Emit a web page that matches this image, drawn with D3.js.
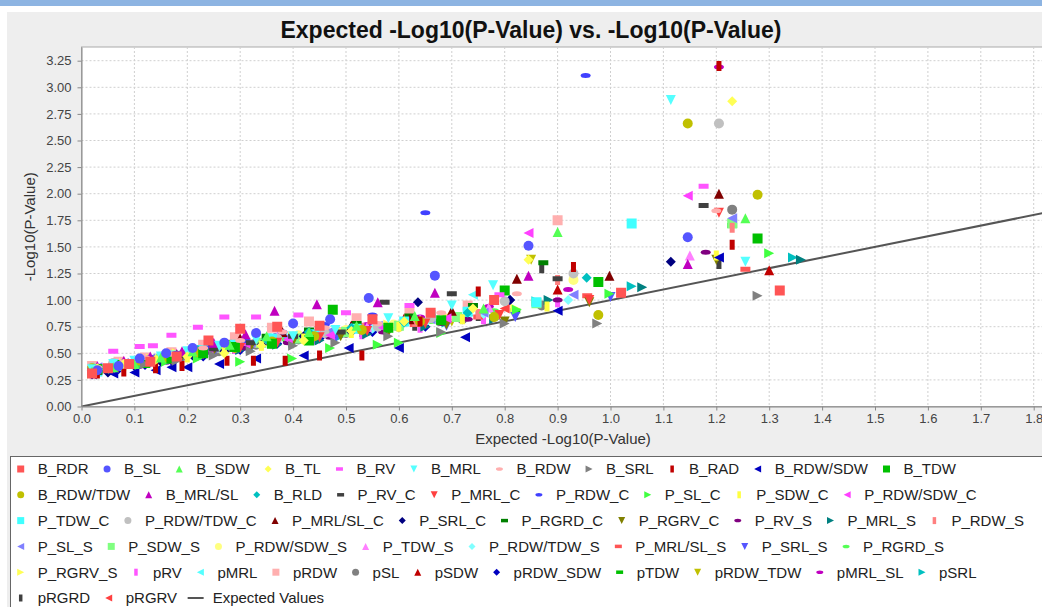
<!DOCTYPE html>
<html>
<head>
<meta charset="utf-8">
<script src="https://cdn.jsdelivr.net/npm/d3@7"></script>
<style>
  body { margin: 0; background: #fff; }
  svg { display: block; font-family: "Liberation Sans", Arial, sans-serif; }
</style>
</head>
<body>
<div id="chart"></div>
<script>

var seriesNames = ["B_RDR", "B_SL", "B_SDW", "B_TL", "B_RV", "B_MRL", "B_RDW", "B_SRL", "B_RAD", "B_RDW/SDW", "B_TDW",
  "B_RDW/TDW", "B_MRL/SL", "B_RLD", "P_RV_C", "P_MRL_C", "P_RDW_C", "P_SL_C", "P_SDW_C", "P_RDW/SDW_C",
  "P_TDW_C", "P_RDW/TDW_C", "P_MRL/SL_C", "P_SRL_C", "P_RGRD_C", "P_RGRV_C", "P_RV_S", "P_MRL_S", "P_RDW_S",
  "P_SL_S", "P_SDW_S", "P_RDW/SDW_S", "P_TDW_S", "P_RDW/TDW_S", "P_MRL/SL_S", "P_SRL_S", "P_RGRD_S",
  "P_RGRV_S", "pRV", "pMRL", "pRDW", "pSL", "pSDW", "pRDW_SDW", "pTDW", "pRDW_TDW", "pMRL_SL", "pSRL",
  "pRGRD", "pRGRV"];

var seriesPoints = [
  [[0.02,0.31],[0.05,0.36],[0.09,0.40],[0.13,0.42],[0.18,0.47],[0.24,0.62],[0.30,0.73],[0.37,0.75],[0.45,0.76],[0.55,0.82],[0.66,0.88],[0.78,1.00],[1.02,1.07],[1.32,1.09]],
  [[0.03,0.34],[0.07,0.38],[0.11,0.45],[0.16,0.50],[0.21,0.55],[0.27,0.60],[0.33,0.69],[0.40,0.78],[0.47,0.82],[0.543,1.02],[0.668,1.23],[0.845,1.51],[1.146,1.59]],
  [[0.02,0.33],[0.06,0.37],[0.10,0.40],[0.15,0.46],[0.21,0.52],[0.28,0.58],[0.35,0.66],[0.43,0.70],[0.52,0.76],[0.63,0.85],[0.76,0.92],[0.90,1.64],[1.255,1.77]],
  [[0.03,0.36],[0.08,0.40],[0.14,0.44],[0.20,0.47],[0.27,0.50],[0.34,0.57],[0.42,0.62],[0.51,0.71],[0.61,0.80],[0.74,0.92],[0.845,1.38],[1.23,2.87]],
  [[0.06,0.52],[0.11,0.565],[0.135,0.57],[0.17,0.67],[0.22,0.745],[0.27,0.84],[0.33,0.84],[0.41,0.86],[0.50,0.88],[0.62,0.95],[0.79,1.05],[1.176,2.07]],
  [[0.02,0.35],[0.06,0.40],[0.10,0.43],[0.15,0.47],[0.20,0.52],[0.26,0.57],[0.33,0.63],[0.40,0.66],[0.48,0.72],[0.58,0.83],[0.70,0.95],[0.778,1.14],[1.114,2.88],[1.255,1.36]],
  [[0.03,0.37],[0.08,0.42],[0.12,0.46],[0.17,0.49],[0.23,0.55],[0.30,0.62],[0.38,0.70],[0.46,0.74],[0.56,0.78],[0.68,0.88],[0.823,1.06],[1.20,1.84]],
  [[0.02,0.32],[0.07,0.36],[0.12,0.40],[0.18,0.43],[0.25,0.48],[0.32,0.52],[0.40,0.57],[0.48,0.60],[0.58,0.66],[0.68,0.70],[0.80,0.78],[0.975,0.78],[1.278,1.04]],
  [[0.03,0.31],[0.08,0.33],[0.14,0.36],[0.19,0.38],[0.275,0.43],[0.325,0.43],[0.385,0.43],[0.45,0.48],[0.53,0.48],[0.64,0.80],[0.75,1.08],[0.93,1.31],[1.23,1.52],[1.205,3.20]],
  [[0.02,0.30],[0.06,0.31],[0.10,0.32],[0.14,0.34],[0.17,0.37],[0.20,0.37],[0.26,0.40],[0.33,0.45],[0.42,0.48],[0.505,0.55],[0.60,0.55],[0.725,0.65],[0.90,0.90],[1.205,1.40]],
  [[0.03,0.35],[0.07,0.39],[0.12,0.41],[0.17,0.45],[0.23,0.50],[0.29,0.56],[0.36,0.59],[0.43,0.62],[0.475,0.91],[0.58,0.74],[0.68,0.81],[0.80,1.09],[0.977,1.17],[1.278,1.58]],
  [[0.02,0.36],[0.07,0.39],[0.11,0.43],[0.16,0.46],[0.22,0.51],[0.29,0.55],[0.36,0.61],[0.44,0.66],[0.53,0.72],[0.64,0.80],[0.78,0.84],[0.977,0.86],[1.146,2.66],[1.278,1.99]],
  [[0.03,0.38],[0.08,0.43],[0.13,0.47],[0.19,0.52],[0.25,0.60],[0.31,0.68],[0.365,0.90],[0.445,0.96],[0.56,0.98],[0.668,1.07],[0.845,1.23],[1.146,1.34]],
  [[0.02,0.34],[0.06,0.38],[0.11,0.42],[0.16,0.47],[0.22,0.53],[0.28,0.57],[0.35,0.63],[0.43,0.70],[0.51,0.74],[0.61,0.79],[0.73,0.88],[0.955,1.21]],
  [[0.03,0.32],[0.08,0.38],[0.13,0.42],[0.19,0.48],[0.25,0.54],[0.32,0.60],[0.40,0.66],[0.49,0.70],[0.573,0.98],[0.70,1.06],[0.90,1.20],[1.176,1.89]],
  [[0.02,0.33],[0.07,0.37],[0.12,0.41],[0.17,0.44],[0.23,0.49],[0.30,0.55],[0.37,0.60],[0.45,0.65],[0.54,0.71],[0.65,0.78],[0.79,0.86],[0.96,1.00],[1.205,1.82]],
  [[0.03,0.36],[0.08,0.42],[0.13,0.46],[0.18,0.50],[0.24,0.55],[0.31,0.62],[0.38,0.70],[0.46,0.77],[0.55,0.86],[0.65,1.82],[0.953,3.11]],
  [[0.02,0.31],[0.06,0.35],[0.11,0.38],[0.16,0.42],[0.22,0.45],[0.30,0.42],[0.398,0.45],[0.47,0.55],[0.56,0.58],[0.60,0.60],[0.68,0.69],[0.823,0.91],[0.998,1.06],[1.30,1.44]],
  [[0.03,0.34],[0.08,0.38],[0.14,0.43],[0.20,0.46],[0.27,0.52],[0.34,0.57],[0.42,0.64],[0.51,0.69],[0.60,0.75],[0.72,0.82],[0.88,0.94],[1.20,1.42]],
  [[0.02,0.35],[0.07,0.40],[0.12,0.44],[0.18,0.48],[0.24,0.54],[0.31,0.59],[0.39,0.63],[0.47,0.67],[0.57,0.74],[0.69,0.83],[0.845,1.63],[1.146,1.98]],
  [[0.03,0.33],[0.07,0.38],[0.12,0.42],[0.17,0.48],[0.23,0.53],[0.29,0.58],[0.36,0.64],[0.44,0.68],[0.52,0.73],[0.61,0.80],[0.73,0.89],[0.86,0.98],[1.04,1.72]],
  [[0.02,0.37],[0.06,0.41],[0.11,0.45],[0.16,0.49],[0.22,0.53],[0.29,0.58],[0.37,0.64],[0.46,0.69],[0.56,0.75],[0.66,0.83],[0.80,0.99],[0.93,1.25],[1.205,2.66]],
  [[0.03,0.36],[0.08,0.40],[0.13,0.44],[0.18,0.49],[0.24,0.57],[0.30,0.64],[0.38,0.70],[0.46,0.74],[0.51,0.76],[0.62,0.82],[0.70,0.90],[0.823,1.20],[0.998,1.23],[1.205,2.00]],
  [[0.02,0.30],[0.05,0.32],[0.10,0.38],[0.15,0.42],[0.21,0.48],[0.27,0.52],[0.34,0.58],[0.42,0.66],[0.51,0.70],[0.636,0.98],[0.81,1.00],[1.114,1.36]],
  [[0.02,0.33],[0.06,0.37],[0.11,0.42],[0.16,0.46],[0.22,0.52],[0.28,0.60],[0.35,0.66],[0.43,0.72],[0.52,0.78],[0.62,0.85],[0.74,0.95],[0.873,1.35]],
  [[0.03,0.35],[0.08,0.39],[0.13,0.43],[0.19,0.47],[0.25,0.52],[0.32,0.56],[0.40,0.61],[0.49,0.66],[0.58,0.70],[0.69,0.77],[0.80,0.80],[0.96,0.98],[1.20,1.38]],
  [[0.02,0.34],[0.07,0.38],[0.12,0.42],[0.18,0.46],[0.24,0.51],[0.31,0.55],[0.39,0.60],[0.47,0.65],[0.57,0.70],[0.68,0.78],[0.73,0.82],[0.90,1.00],[1.18,1.45]],
  [[0.03,0.33],[0.07,0.36],[0.12,0.40],[0.17,0.44],[0.23,0.48],[0.30,0.53],[0.37,0.58],[0.45,0.62],[0.54,0.68],[0.65,0.75],[0.78,0.82],[0.883,1.00],[1.06,1.12],[1.36,1.38]],
  [[0.02,0.36],[0.06,0.40],[0.11,0.44],[0.16,0.48],[0.22,0.52],[0.28,0.58],[0.36,0.63],[0.44,0.68],[0.53,0.74],[0.63,0.80],[0.75,0.87],[0.90,1.19],[1.23,1.68]],
  [[0.03,0.37],[0.08,0.41],[0.13,0.45],[0.19,0.50],[0.25,0.55],[0.32,0.60],[0.39,0.65],[0.47,0.71],[0.56,0.76],[0.66,0.82],[0.76,0.88],[0.93,1.05],[1.23,1.77]],
  [[0.02,0.32],[0.06,0.36],[0.10,0.40],[0.15,0.45],[0.21,0.50],[0.27,0.55],[0.34,0.60],[0.41,0.64],[0.50,0.70],[0.60,0.76],[0.71,0.84],[0.86,0.97],[1.23,1.72]],
  [[0.03,0.35],[0.08,0.40],[0.14,0.44],[0.20,0.49],[0.26,0.55],[0.33,0.60],[0.41,0.67],[0.50,0.72],[0.59,0.77],[0.70,0.85],[0.93,1.19]],
  [[0.02,0.36],[0.07,0.41],[0.12,0.45],[0.18,0.50],[0.24,0.56],[0.30,0.62],[0.37,0.66],[0.45,0.70],[0.54,0.75],[0.64,0.82],[0.77,0.93],[1.15,1.42]],
  [[0.03,0.34],[0.07,0.39],[0.12,0.43],[0.17,0.47],[0.23,0.52],[0.30,0.57],[0.37,0.62],[0.45,0.67],[0.55,0.73],[0.65,0.79],[0.76,0.87],[0.92,1.00]],
  [[0.02,0.35],[0.06,0.39],[0.11,0.43],[0.16,0.47],[0.22,0.52],[0.29,0.57],[0.36,0.62],[0.44,0.66],[0.53,0.71],[0.63,0.77],[0.75,0.84],[0.956,1.04],[1.255,1.29]],
  [[0.03,0.33],[0.08,0.37],[0.13,0.41],[0.19,0.46],[0.25,0.50],[0.32,0.55],[0.40,0.60],[0.48,0.64],[0.58,0.70],[0.69,0.76],[0.82,0.84],[1.00,1.03]],
  [[0.02,0.34],[0.07,0.38],[0.12,0.43],[0.17,0.48],[0.23,0.53],[0.30,0.58],[0.38,0.64],[0.46,0.68],[0.56,0.74],[0.66,0.80],[0.78,0.90]],
  [[0.03,0.36],[0.08,0.41],[0.13,0.45],[0.18,0.50],[0.25,0.55],[0.32,0.61],[0.40,0.66],[0.49,0.71],[0.58,0.77],[0.69,0.84],[0.82,0.92]],
  [[0.02,0.31],[0.06,0.35],[0.11,0.40],[0.16,0.44],[0.22,0.49],[0.29,0.54],[0.36,0.59],[0.44,0.63],[0.53,0.68],[0.64,0.74],[0.76,0.82],[0.90,0.98]],
  [[0.03,0.35],[0.07,0.40],[0.12,0.44],[0.18,0.49],[0.24,0.54],[0.31,0.60],[0.38,0.65],[0.46,0.69],[0.56,0.73],[0.66,0.86],[0.74,1.05]],
  [[0.02,0.38],[0.07,0.42],[0.12,0.46],[0.17,0.51],[0.23,0.58],[0.29,0.65],[0.36,0.74],[0.43,0.80],[0.52,0.83],[0.62,0.88],[0.73,0.95],[0.90,1.75]],
  [[0.03,0.34],[0.08,0.39],[0.13,0.43],[0.19,0.47],[0.26,0.52],[0.33,0.58],[0.41,0.63],[0.50,0.69],[0.60,0.75],[0.72,0.82],[0.87,0.95],[1.23,1.85]],
  [[0.02,0.33],[0.06,0.37],[0.11,0.41],[0.16,0.45],[0.22,0.50],[0.28,0.56],[0.35,0.62],[0.43,0.70],[0.51,0.76],[0.61,0.83],[0.73,0.90],[0.90,1.10],[1.30,1.28]],
  [[0.03,0.32],[0.07,0.35],[0.12,0.39],[0.17,0.43],[0.23,0.47],[0.30,0.53],[0.37,0.59],[0.45,0.64],[0.55,0.70],[0.65,0.75],[0.81,1.00]],
  [[0.02,0.35],[0.07,0.39],[0.12,0.43],[0.18,0.48],[0.24,0.53],[0.31,0.58],[0.39,0.63],[0.47,0.68],[0.57,0.74],[0.68,0.80],[0.82,0.90],[1.23,1.70]],
  [[0.03,0.33],[0.08,0.37],[0.13,0.42],[0.19,0.47],[0.25,0.52],[0.32,0.57],[0.40,0.62],[0.48,0.66],[0.58,0.72],[0.70,0.80],[0.85,1.38]],
  [[0.02,0.37],[0.07,0.41],[0.12,0.45],[0.17,0.49],[0.23,0.55],[0.30,0.61],[0.37,0.67],[0.45,0.72],[0.54,0.77],[0.64,0.84],[0.77,0.94],[0.92,1.10],[1.205,3.19]],
  [[0.03,0.34],[0.08,0.38],[0.13,0.42],[0.19,0.46],[0.25,0.51],[0.32,0.55],[0.40,0.60],[0.49,0.66],[0.58,0.72],[0.69,0.79],[0.86,0.99],[1.04,1.13],[1.345,1.40]],
  [[0.02,0.32],[0.06,0.36],[0.11,0.40],[0.16,0.44],[0.22,0.49],[0.29,0.54],[0.36,0.60],[0.44,0.65],[0.53,0.70],[0.63,0.76],[0.75,0.85],[0.87,1.30],[1.205,1.34]],
  [[0.03,0.36],[0.08,0.40],[0.13,0.44],[0.19,0.49],[0.25,0.54],[0.32,0.60],[0.40,0.65],[0.48,0.70],[0.58,0.76],[0.68,0.83],[0.80,0.92]]
];

var expectedValues = [[0, 0], [1.9, 1.9]];
var xTicks = [0, 0.1, 0.2, 0.3, 0.4, 0.5, 0.6, 0.7, 0.8, 0.9, 1.0, 1.1, 1.2, 1.3, 1.4, 1.5, 1.6, 1.7, 1.8];
var yTicks = [0, 0.25, 0.5, 0.75, 1.0, 1.25, 1.5, 1.75, 2.0, 2.25, 2.5, 2.75, 3.0, 3.25];
var legendRowStarts = [0, 11, 20, 29, 37, 48];

// default paint + shape sequences of the chart library that made the original
var paints = ["#ff5555", "#5555ff", "#55ff55", "#ffff55", "#ff55ff", "#55ffff", "#ffafaf", "#808080",
  "#c00000", "#0000c0", "#00c000", "#c0c000", "#c000c0", "#00c0c0", "#404040", "#ff4040", "#4040ff",
  "#40ff40", "#ffff40", "#ff40ff", "#40ffff", "#c0c0c0", "#800000", "#000080", "#008000", "#808000",
  "#800080", "#008080", "#ff8080", "#8080ff", "#80ff80", "#ffff80", "#ff80ff", "#80ffff"];

var width = 1042, height = 607;
var plot = {left: 81.5, top: 47, right: 1050, bottom: 406.5};

var x = d3.scaleLinear().domain([0, (plot.right - plot.left) / 529]).range([plot.left, plot.right]);
var y = d3.scaleLinear().domain([0, (plot.bottom - plot.top) / 106.4]).range([plot.bottom, plot.top]);

function shapePath(k, d) {
  var h = d / 2;
  switch (k % 10) {
    case 0: return "M" + -d + "," + -d + "h" + 2 * d + "v" + 2 * d + "h" + -2 * d + "Z";
    case 1: return "M" + -d + ",0a" + d + "," + d + " 0 1,0 " + 2 * d + ",0a" + d + "," + d + " 0 1,0 " + -2 * d + ",0Z";
    case 2: return "M0," + -d + "L" + d + "," + d + "L" + -d + "," + d + "Z";
    case 3: return "M0," + -d + "L" + d + ",0L0," + d + "L" + -d + ",0Z";
    case 4: return "M" + -d + "," + -h + "h" + 2 * d + "v" + d + "h" + -2 * d + "Z";
    case 5: return "M" + -d + "," + -d + "L" + d + "," + -d + "L0," + d + "Z";
    case 6: return "M" + -d + ",0a" + d + "," + h + " 0 1,0 " + 2 * d + ",0a" + d + "," + h + " 0 1,0 " + -2 * d + ",0Z";
    case 7: return "M" + -d + "," + -d + "L" + d + ",0L" + -d + "," + d + "Z";
    case 8: return "M" + -h + "," + -d + "h" + d + "v" + 2 * d + "h" + -d + "Z";
    default: return "M" + -d + ",0L" + d + "," + -d + "L" + d + "," + d + "Z";
  }
}

var svg = d3.select("#chart").append("svg")
  .attr("width", width)
  .attr("height", height);

// page frame
svg.append("rect").attr("x", 0).attr("y", 0).attr("width", width).attr("height", 6).attr("fill", "#8db4e2");
svg.append("rect").attr("x", 7).attr("y", 12).attr("width", width).attr("height", height).attr("fill", "#eeeeee");

svg.append("text")
  .attr("x", 531).attr("y", 38)
  .attr("text-anchor", "middle")
  .style("font-size", "23px").style("font-weight", "bold").attr("fill", "#111")
  .text("Expected -Log10(P-Value) vs. -Log10(P-Value)");

svg.append("rect")
  .attr("x", plot.left).attr("y", plot.top)
  .attr("width", plot.right - plot.left).attr("height", plot.bottom - plot.top)
  .attr("fill", "#fff").attr("stroke", "#aaa");

svg.append("defs").append("clipPath").attr("id", "clip")
  .append("rect")
  .attr("x", plot.left).attr("y", plot.top)
  .attr("width", plot.right - plot.left).attr("height", plot.bottom - plot.top);

// gridlines
var grid = svg.append("g").attr("stroke", "#cfcfcf").attr("stroke-dasharray", "2,2");
grid.selectAll(".gx").data(xTicks.slice(1)).enter().append("line")
  .attr("x1", d => x(d)).attr("x2", d => x(d))
  .attr("y1", plot.top).attr("y2", plot.bottom);
grid.selectAll(".gy").data(yTicks.slice(1)).enter().append("line")
  .attr("x1", plot.left).attr("x2", plot.right)
  .attr("y1", d => y(d)).attr("y2", d => y(d));

var plotArea = svg.append("g").attr("clip-path", "url(#clip)");

// expected values line drawn first, series in reverse order so B_RDR ends on top
plotArea.append("path")
  .datum(expectedValues)
  .attr("d", d3.line().x(d => x(d[0])).y(d => y(d[1])))
  .attr("stroke", "#555").attr("stroke-width", 2).attr("fill", "none");

for (var i = seriesPoints.length - 1; i >= 0; i--) {
  plotArea.selectAll(".s" + i)
    .data(seriesPoints[i])
    .enter()
    .append("path")
    .attr("class", "s" + i)
    .attr("transform", d => "translate(" + x(d[0]) + "," + y(d[1]) + ")")
    .attr("d", shapePath(i, 5))
    .attr("fill", paints[i % paints.length]);
}

// axes
var yAxis = svg.append("g")
  .attr("transform", "translate(" + plot.left + ",0)")
  .call(d3.axisLeft(y).tickValues(yTicks).tickFormat(d3.format(".2f")).tickSize(4).tickPadding(6).tickSizeOuter(0));
var xAxis = svg.append("g")
  .attr("transform", "translate(0," + plot.bottom + ")")
  .call(d3.axisBottom(x).tickValues(xTicks).tickFormat(d3.format(".1f")).tickSize(4).tickPadding(3).tickSizeOuter(0));
[xAxis, yAxis].forEach(function(a) {
  a.attr("font-family", null).attr("font-size", null);
  a.select(".domain").attr("stroke", "#888");
  a.selectAll(".tick line").attr("stroke", "#888");
  a.selectAll(".tick text").attr("fill", "#444").style("font-size", "13px");
});

svg.append("text")
  .attr("x", 563).attr("y", 444)
  .attr("text-anchor", "middle")
  .style("font-size", "15px").attr("fill", "#333")
  .text("Expected -Log10(P-Value)");

svg.append("text")
  .attr("transform", "translate(35," + (plot.top + plot.bottom) / 2 + ") rotate(-90)")
  .attr("text-anchor", "middle")
  .style("font-size", "15px").attr("fill", "#333")
  .text("-Log10(P-Value)");

// legend
svg.append("rect")
  .attr("x", 10.5).attr("y", 456.5)
  .attr("width", 1060).attr("height", 200)
  .attr("fill", "#fff").attr("stroke", "#666");

var legendItems = seriesNames.concat(["Expected Values"]);
var legend = svg.append("g").style("font-size", "15px");
legendRowStarts.forEach(function(start, r) {
  var end = r + 1 < legendRowStarts.length ? legendRowStarts[r + 1] : legendItems.length;
  var cx = 20.7, cy = 469 + r * 25.8;
  for (var k = start; k < end; k++) {
    if (k < seriesNames.length) {
      legend.append("path")
        .attr("transform", "translate(" + cx + "," + cy + ")")
        .attr("d", shapePath(k, 3.5))
        .attr("fill", paints[k % paints.length]);
    } else {
      legend.append("line")
        .attr("x1", cx - 8).attr("x2", cx + 8)
        .attr("y1", cy).attr("y2", cy)
        .attr("stroke", "#555").attr("stroke-width", 2);
    }
    var t = legend.append("text")
      .attr("x", cx + 17).attr("y", cy).attr("dy", "0.36em")
      .attr("fill", "#222")
      .text(legendItems[k]);
    cx += 17 + t.node().getComputedTextLength() + 18.5;
  }
});

</script>
</body>
</html>
